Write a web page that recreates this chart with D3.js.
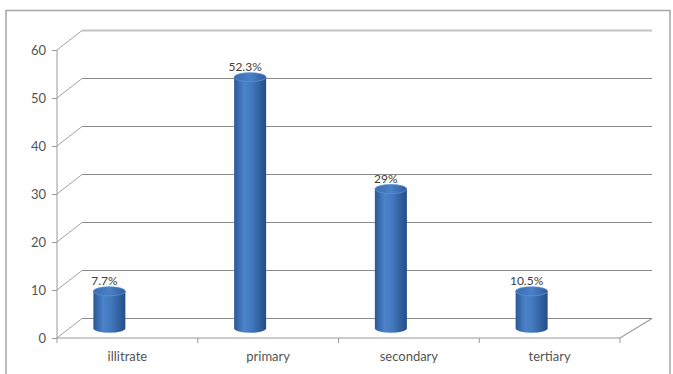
<!DOCTYPE html>
<html><head><meta charset="utf-8">
<script src="https://cdn.jsdelivr.net/npm/d3@7"></script>
<style>body{margin:0;background:#fff}svg{display:block}</style>
</head><body>
<svg id="c" width="673" height="374"></svg>
<script>
const categories = ["illitrate", "primary", "secondary", "tertiary"];
const values = [7.7, 52.3, 29, 7.7];
const valueLabels = ["7.7%", "52.3%", "29%", "10.5%"];
const yTicks = [0, 10, 20, 30, 40, 50, 60];

const svg = d3.select("#c");
const font = "Lato, 'Liberation Sans', sans-serif";
// frame
svg.append("rect").attr("x", 6).attr("y", 10.5).attr("width", 664).attr("height", 380)
  .attr("fill", "#fff").attr("stroke", "#a6a6a6").attr("stroke-width", 1.5);

const x = d3.scaleBand().domain(categories).range([57, 620]).padding(0);
const y = d3.scaleLinear().domain([0, 60]).range([338, 50]);
const DX = 25, DY = 19.5, BACK_R = 652;

const g = svg.append("g");
// back gridlines and side diagonals
yTicks.forEach((t, i) => {
  const yy = y(t);
  const top = t === 60;
  g.append("line").attr("x1", 57).attr("y1", yy).attr("x2", 57 + DX).attr("y2", yy - DY)
    .attr("stroke", "#a0a0a0").attr("stroke-width", 1);
  g.append("line").attr("x1", 57 + DX).attr("y1", yy - DY).attr("x2", BACK_R).attr("y2", yy - DY)
    .attr("stroke", top ? "#c4c4c4" : "#8a8a8a").attr("stroke-width", top ? 2 : 1.1);
});
// floor front edge
g.append("path")
  .attr("d", `M57,${y(0)}L620,${y(0)}L${BACK_R},${y(0) - DY}`)
  .attr("fill", "none").attr("stroke", "#9a9a9a").attr("stroke-width", 1.1);
// category ticks
[...categories.map(c => x(c)), 620].forEach(v => {
  g.append("line").attr("x1", v).attr("x2", v).attr("y1", y(0)).attr("y2", y(0) + 5)
    .attr("stroke", "#9a9a9a");
});

// y axis
const ax = svg.append("g").attr("transform", "translate(57,0)")
  .call(d3.axisLeft(y).tickValues(yTicks).tickSize(5).tickPadding(6));
ax.select(".domain").attr("stroke", "#9a9a9a").attr("d", `M-0,${y(60)}V${y(0)}`);
ax.selectAll(".tick line").attr("stroke", "#9a9a9a");
ax.selectAll("text").attr("fill", "#555").style("font-family", font).style("font-size", "13px");

// category labels
svg.append("g").selectAll("text").data(categories).join("text")
  .attr("x", d => x(d) + x.bandwidth() / 2).attr("y", 361)
  .attr("text-anchor", "middle").attr("fill", "#555")
  .style("font-family", font).style("font-size", "13px").text(d => d);

// cylinders
const defs = svg.append("defs");
const grad = defs.append("linearGradient").attr("id", "cyl").attr("x1", "0").attr("x2", "1");
[[0, "#2a5896"], [0.3, "#4c83c9"], [0.55, "#4278be"], [1, "#244d86"]].forEach(([o, c]) =>
  grad.append("stop").attr("offset", o).attr("stop-color", c));
const gradTop = defs.append("linearGradient").attr("id", "cylTop").attr("x1", "0").attr("x2", "1");
[[0, "#3a6cb0"], [0.5, "#4a80c6"], [1, "#2f5d9c"]].forEach(([o, c]) =>
  gradTop.append("stop").attr("offset", o).attr("stop-color", c));

const R = 16, RY = 4.5, OFF = -18, MID = DY / 2;
const bars = svg.append("g").selectAll("g").data(categories).join("g");
bars.each(function (d, i) {
  const gg = d3.select(this);
  const cx = x(d) + x.bandwidth() / 2 + OFF;
  const yb = y(0) - MID, yt = y(values[i]) - MID;
  gg.append("path")
    .attr("d", `M${cx - R},${yt}L${cx - R},${yb}A${R},${RY} 0 0 0 ${cx + R},${yb}L${cx + R},${yt}Z`)
    .attr("fill", "url(#cyl)");
  gg.append("ellipse").attr("cx", cx).attr("cy", yt).attr("rx", R).attr("ry", RY)
    .attr("fill", "url(#cylTop)").attr("stroke", "#5d8fd2").attr("stroke-width", 0.8);
  gg.append("text").attr("x", cx - 5).attr("y", yt - 6).attr("text-anchor", "middle")
    .attr("fill", "#404040").style("font-family", font).style("font-size", "12px")
    .text(valueLabels[i]);
});
</script>
</body></html>
